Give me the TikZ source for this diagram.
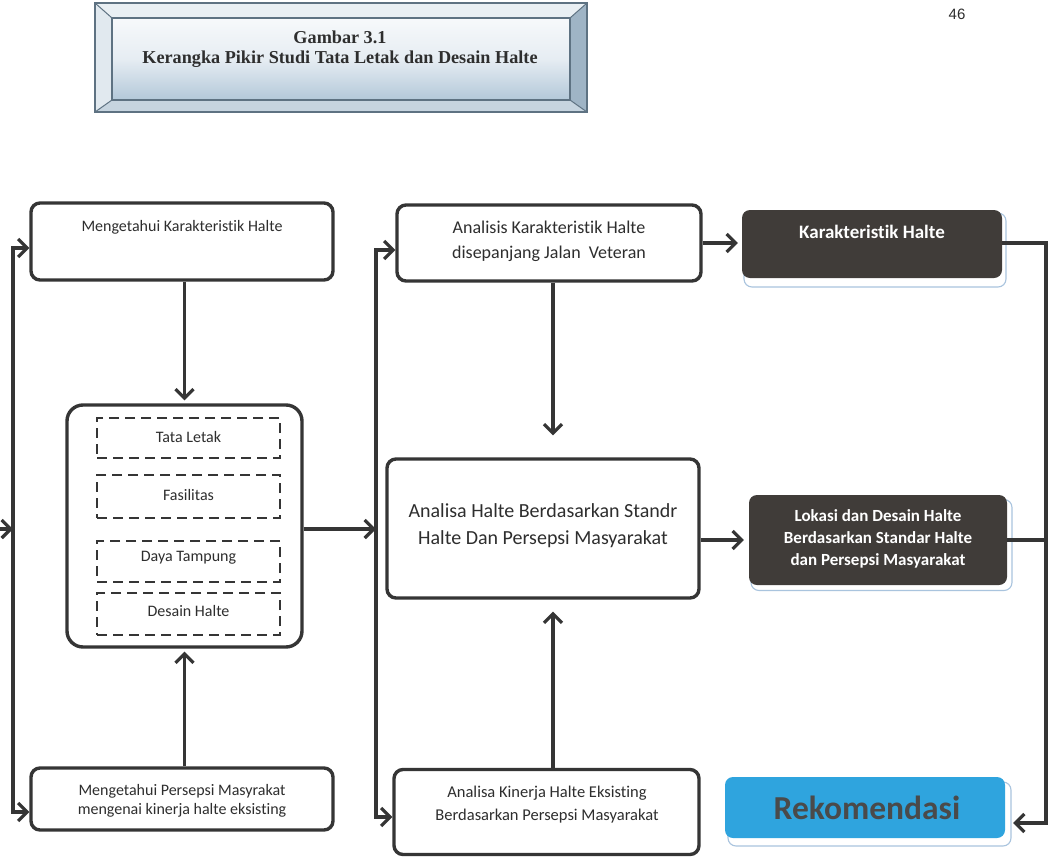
\documentclass[tikz,border=0pt]{standalone}
\usepackage{fontspec}
\setmainfont{Carlito}[Ligatures=NoCommon]
\newfontfamily\titlefont{Liberation Serif}
\newfontfamily\pagefont{Liberation Sans}
\usetikzlibrary{arrows.meta,calc}
\definecolor{ln}{HTML}{353535}
\definecolor{txtc}{HTML}{2E2E2E}
\definecolor{darkfill}{HTML}{403C39}
\definecolor{recblue}{HTML}{2FA4DE}
\definecolor{rectext}{HTML}{4A4A4A}
\definecolor{shadowblue}{HTML}{A9C4DE}
\definecolor{frameline}{HTML}{5E7282}
\definecolor{bevtop}{HTML}{E9EFF3}
\definecolor{bevleft}{HTML}{E1E9EF}
\definecolor{bevright}{HTML}{9FB4C5}
\definecolor{bevbot}{HTML}{C6D4DF}
\definecolor{paneltop}{HTML}{F7F9FB}
\definecolor{panelbot}{HTML}{B3C8D9}
\newcommand\fsz[2]{\fontsize{#1}{#2}\selectfont}
\tikzset{
  box/.style={draw=ln, line width=3.4pt, rounded corners=9pt, fill=white, inner sep=0pt},
  dbox/.style={draw=ln, line width=2.6pt, dash pattern=on 10pt off 6pt, inner sep=0pt},
  darkbox/.style={fill=darkfill, rounded corners=8pt, inner sep=0pt},
  shbox/.style={draw=shadowblue, line width=1.1pt, fill=white, rounded corners=8pt, inner sep=0pt},
  txt/.style={text=txtc, align=center, inner sep=0pt, font=\fsz{16}{19}},
  wtxt/.style={text=white, align=center, inner sep=0pt, font=\bfseries\fsz{17}{22}},
  conn/.style={draw=ln, line width=3.2pt},
  arr/.style={conn, -{Straight Barb[length=9pt,width=18pt]}},
  arrb/.style={conn, {Straight Barb[length=9pt,width=18pt]}-{Straight Barb[length=9pt,width=18pt]}},
}
\begin{document}
\begin{tikzpicture}[x=1pt,y=-1pt]
\useasboundingbox (0,0) rectangle (1050,857);
\fill[white] (0,0) rectangle (1050,857);

% ---------- title frame ----------
\fill[bevtop] (95,3) -- (587,3) -- (570,18) -- (112,18) -- cycle;
\fill[bevleft] (95,3) -- (112,18) -- (112,100) -- (95,112) -- cycle;
\fill[bevright] (587,3) -- (587,112) -- (570,100) -- (570,18) -- cycle;
\fill[bevbot] (95,112) -- (587,112) -- (570,100) -- (112,100) -- cycle;
\shade[top color=paneltop, bottom color=panelbot, middle color=paneltop!75!panelbot] (112,18) rectangle (570,100);
\draw[frameline, line width=1.4pt] (95,3) rectangle (587,112);
\draw[frameline, line width=1.2pt] (112,18) rectangle (570,100);
\draw[frameline, line width=1pt] (95,3) -- (112,18) (587,3) -- (570,18) (587,112) -- (570,100) (95,112) -- (112,100);
\node[font=\titlefont\bfseries\fsz{18.2}{19.5}, text=txtc, align=center, inner sep=0pt] (title) at (340,49)
  {Gambar 3.1\\Kerangka Pikir Studi Tata Letak dan Desain Halte};
\node[font=\pagefont\fsz{15}{18}, text=txtc, inner sep=0pt] (page) at (957,14) {46};

% ---------- left column ----------
\node[box, minimum width=302pt, minimum height=77pt] (A) at (182,241.5) {};
\node[txt] (At) at (182,227) {Mengetahui Karakteristik Halte};

\node[box, rounded corners=16pt, minimum width=235pt, minimum height=242pt] (B) at (184.5,526) {};
\node[dbox, minimum width=183pt, minimum height=40pt] (T1) at (188.5,438) {};
\node[dbox, minimum width=183pt, minimum height=43pt] (T2) at (188.5,496.5) {};
\node[dbox, minimum width=183pt, minimum height=41pt] (T3) at (188.5,561.5) {};
\node[dbox, minimum width=183pt, minimum height=42pt] (T4) at (188.5,614) {};
\node[txt] (T1t) at (188.5,437) {Tata Letak};
\node[txt] (T2t) at (188.5,495) {Fasilitas};
\node[txt] (T3t) at (188.5,558) {Daya Tampung};
\node[txt] (T4t) at (188.5,611) {Desain Halte};

\node[box, minimum width=302pt, minimum height=62pt] (C) at (182,799) {};
\node[txt] (Ct) at (182,800.5) {Mengetahui Persepsi Masyrakat\\mengenai kinerja halte eksisting};

% ---------- middle column ----------
\node[box, minimum width=304pt, minimum height=76pt] (D1) at (549,243) {};
\node[txt, font=\fsz{18}{25}] (D1t) at (549,241) {Analisis Karakteristik Halte\\disepanjang Jalan\ \ Veteran};

\node[box, minimum width=312pt, minimum height=139pt] (D2) at (543,528.5) {};
\node[txt, font=\fsz{20}{27}] (D2t) at (543,525.5) {Analisa Halte Berdasarkan Standr\\Halte Dan Persepsi Masyarakat};

\node[box, minimum width=305pt, minimum height=85pt] (D3) at (546.5,812) {};
\node[txt, font=\fsz{16.5}{23}] (D3t) at (547,804.5) {Analisa Kinerja Halte Eksisting\\Berdasarkan Persepsi Masyarakat};

% ---------- right column ----------
\node[shbox, minimum width=262pt, minimum height=74pt] (Ks) at (875,250) {};
\node[darkbox, minimum width=260pt, minimum height=68pt] (K) at (872,244) {};
\node[wtxt, font=\bfseries\fsz{19}{22}] (Kt) at (872,232) {Karakteristik Halte};

\node[shbox, minimum width=261pt, minimum height=91pt] (Ls) at (881.5,545) {};
\node[darkbox, minimum width=258pt, minimum height=90pt] (L) at (878,540) {};
\node[wtxt] (Lt) at (878,539) {Lokasi dan Desain Halte\\Berdasarkan Standar Halte\\dan Persepsi Masyarakat};

\node[shbox, minimum width=283pt, minimum height=64pt] (Rs) at (869.5,814) {};
\node[darkbox, fill=recblue, minimum width=280pt, minimum height=61pt] (R) at (865,807.5) {};
\node[text=rectext, font=\bfseries\fsz{33.5}{36}, inner sep=0pt] (Rt) at (867,808) {Rekomendasi};

% ---------- connectors ----------
\coordinate (l1) at (13,248);
\coordinate (l2) at (13,812);
\coordinate (lin) at (0,529);
\coordinate (m1) at (376,250);
\coordinate (m2) at (376,817);
\coordinate (mj) at (376,529);
\coordinate (dx) at (553,0);
\coordinate (r1) at (1046,243);
\coordinate (r2) at (1046,823);

\draw[arr, shorten >=3pt] (B.north |- A.south) -- (B.north);
\draw[arr, shorten >=3pt] (B.south |- C.north) -- (B.south);
\draw[arrb] (A.west |- l1) -- (l1) -- (l2) -- (C.west |- l2);
\draw[arr] (lin) -- (lin -| l1);
\draw[arr] (B.east |- mj) -- (mj);
\draw[arrb] (D1.west |- m1) -- (m1) -- (m2) -- (D3.west |- m2);
\draw[arr, shorten >=22pt] (D1.south -| dx) -- (D2.north -| dx);
\draw[arr, shorten >=12pt] (D3.north -| dx) -- (D2.south -| dx);
\draw[arr, shorten >=4pt] (D1.east) -- (D1.east -| K.west);
\draw[arr, shorten >=5pt] (D2.east |- L.west) -- (L.west);
\draw[arr, shorten >=8pt] (K.east |- r1) -- (r1) -- (r2) -- (R.east |- r2);
\draw[conn] (L.east) -- (L.east -| r1);
\end{tikzpicture}
\end{document}
